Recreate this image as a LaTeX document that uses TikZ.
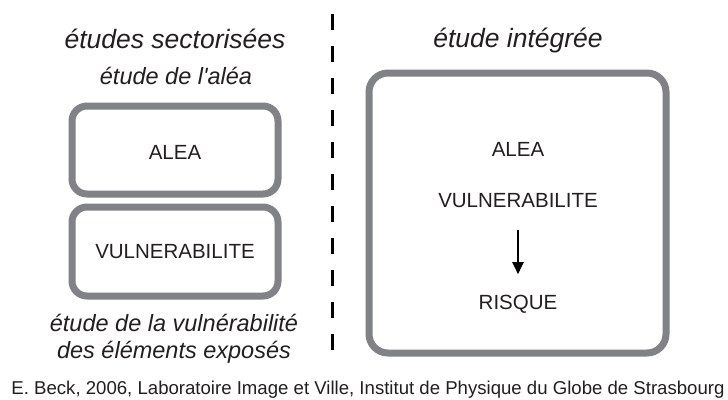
\documentclass[tikz,border=0pt]{standalone}
\usepackage{fontspec}
\setmainfont{Liberation Sans}
\usetikzlibrary{arrows.meta}
\definecolor{boxgray}{RGB}{128,130,134}
\definecolor{ink}{RGB}{35,31,32}
\tikzset{
  roundbox/.style={draw=boxgray, line width=7pt, rounded corners=15pt, fill=white, inner sep=0pt},
  bigbox/.style={roundbox, rounded corners=19pt},
  lbl/.style={text=ink, inner sep=0pt, font=\fontsize{20.5}{24}\selectfont},
  title/.style={text=ink, inner sep=0pt, anchor=base, font=\fontsize{26.5}{30}\selectfont\itshape},
  subtitle/.style={text=ink, inner sep=0pt, align=center, font=\fontsize{23.5}{26.5}\selectfont\itshape},
  caption/.style={text=ink, inner sep=0pt, anchor=base, font=\fontsize{18.6}{22}\selectfont},
  divider/.style={line width=3pt, dash pattern=on 16pt off 16pt, black},
  flow/.style={line width=2pt, black, -{Triangle[length=12pt,width=11pt]}}
}
\begin{document}
\begin{tikzpicture}[x=1pt,y=-1pt]
\useasboundingbox[fill=white] (0,0) rectangle (728,399);
% divider
\coordinate (dtop) at (332,14);
\coordinate (dbot) at (332,351);
\draw[divider] (dtop) -- (dbot);
% titles
\node[title] (tleft) at (175,48) {études sectorisées};
\node[title] (tright) at (518,47) {étude intégrée};
\node[subtitle, anchor=base] (salea) at (176,84) {étude de l\textquotesingle aléa};
% left boxes
\node[roundbox, minimum width=206pt, minimum height=88pt] (balea) at (175,150) {};
\node[lbl] (alea) at (175,152) {ALEA};
\node[roundbox, minimum width=206pt, minimum height=89pt] (bvul) at (175,251.5) {};
\node[lbl] (vul) at (175,252) {VULNERABILITE};
\node[subtitle, anchor=base] (svul) at (174,358) {étude de la vulnérabilité\\des éléments exposés};
% right box
\node[bigbox, minimum width=297pt, minimum height=280pt] (bint) at (517.5,213) {};
\node[lbl] (ralea) at (518,149) {ALEA};
\node[lbl] (rvul) at (518,201) {VULNERABILITE};
\node[lbl] (risque) at (518,304.5) {RISQUE};
\draw[flow, shorten <=22pt, shorten >=21pt] (rvul) -- (risque);
% caption
\node[caption] (cap) at (368,394.5) {E. Beck, 2006, Laboratoire Image et Ville, Institut de Physique du Globe de Strasbourg};
\end{tikzpicture}
\end{document}
